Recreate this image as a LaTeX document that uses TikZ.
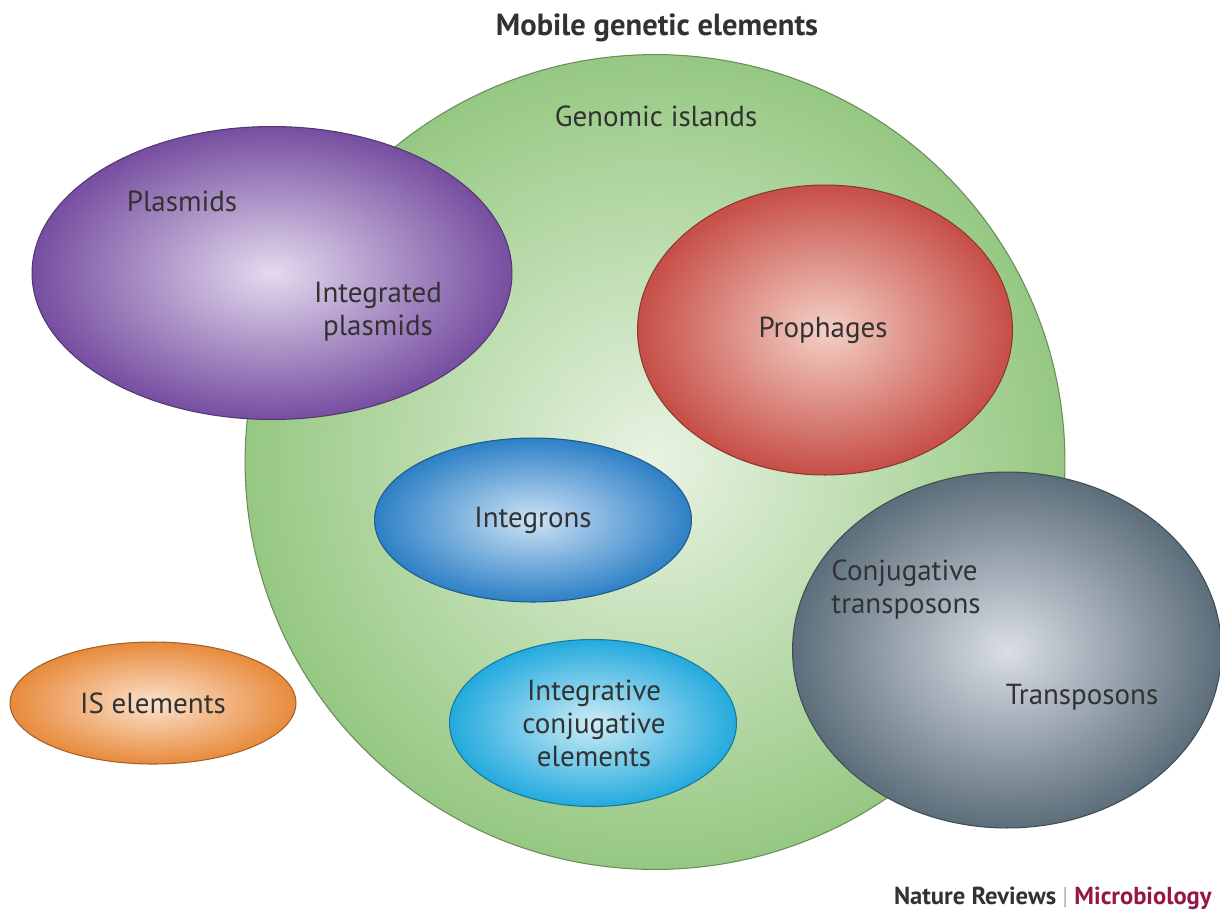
\documentclass[tikz,border=0pt]{standalone}
\usepackage{fontspec}
\setmainfont{PT Sans}
\usetikzlibrary{shapes.geometric}
\usetikzlibrary{positioning}
\definecolor{textgray}{RGB}{50,50,50}
\definecolor{greenout}{RGB}{150,200,130}
\definecolor{greenin}{RGB}{232,243,226}
\definecolor{purpleout}{RGB}{118,78,160}
\definecolor{purplein}{RGB}{228,218,238}
\definecolor{redout}{RGB}{198,78,70}
\definecolor{redin}{RGB}{244,208,198}
\definecolor{blueout}{RGB}{45,128,198}
\definecolor{bluein}{RGB}{205,226,245}
\definecolor{cyanout}{RGB}{35,170,222}
\definecolor{cyanin}{RGB}{205,236,246}
\definecolor{grayout}{RGB}{92,110,122}
\definecolor{grayin}{RGB}{218,222,230}
\definecolor{orangeout}{RGB}{232,138,60}
\definecolor{orangein}{RGB}{251,226,204}
\definecolor{microred}{RGB}{150,22,72}

\tikzset{
  blob/.style 2 args={ellipse, inner sep=0pt, draw=#1!70!black, line width=0.6pt,
    outer color=#1, inner color=#2},
  lbl/.style={font=\fontsize{16.5}{18.8}\selectfont, text=textgray, align=center}
}

\begin{document}
\begin{tikzpicture}[x=0.02cm, y=-0.02cm]
		\useasboundingbox (0,0) rectangle (1220,920);

		% outer set: genomic islands
		\node (islands) at (655,462) [blob={greenout}{greenin}, minimum width=16.4cm, minimum height=16.3cm] {};

		% overlapping sets
		\node (plasmids) at (272,273) [blob={purpleout}{purplein}, minimum width=9.6cm, minimum height=5.86cm] {};
		\node (prophages) at (825,330) [blob={redout}{redin}, minimum width=7.5cm, minimum height=5.8cm] {};
		\node (integrons) at (533,520) [blob={blueout}{bluein}, minimum width=6.34cm, minimum height=3.28cm] {};
		\node (ice) at (593,723) [blob={cyanout}{cyanin}, minimum width=5.74cm, minimum height=3.34cm] {};
		\node (transposons) at (1007,650) [blob={grayout}{grayin}, minimum width=8.58cm, minimum height=7.12cm] {};
		\node (iselements) at (153,703) [blob={orangeout}{orangein}, minimum width=5.72cm, minimum height=2.44cm] {};

		% labels
		\node (title) at (657,28) [lbl, font=\fontsize{17.4}{20}\bfseries] {Mobile genetic elements};
		\node (islandslbl) at (656,116) [lbl] {Genomic islands};
		\node (plasmidslbl) at (182,201) [lbl] {Plasmids};
		\node (intplasmidslbl) at (378,312) [lbl] {Integrated\\plasmids};
		\node (prophageslbl) at (823,330) [lbl] {Prophages};
		\node (integronslbl) at (533,520) [lbl] {Integrons};
		\node (conjlbl) at (906,590) [lbl, align=left] {Conjugative\\transposons};
		\node (transposonslbl) at (1082,697) [lbl] {Transposons};
		\node (icelbl) at (594,723) [lbl] {Integrative\\conjugative\\elements};
		\node (islbl) at (153,703) [lbl] {IS elements};

		\node (credit) at (1212,898) [anchor=east, font=\fontsize{14}{17}\bfseries, text=textgray, inner sep=0pt]
			{Nature Reviews {\color{gray!60}\mdseries|} {\color{microred}Microbiology}};
	\end{tikzpicture}
\end{document}
